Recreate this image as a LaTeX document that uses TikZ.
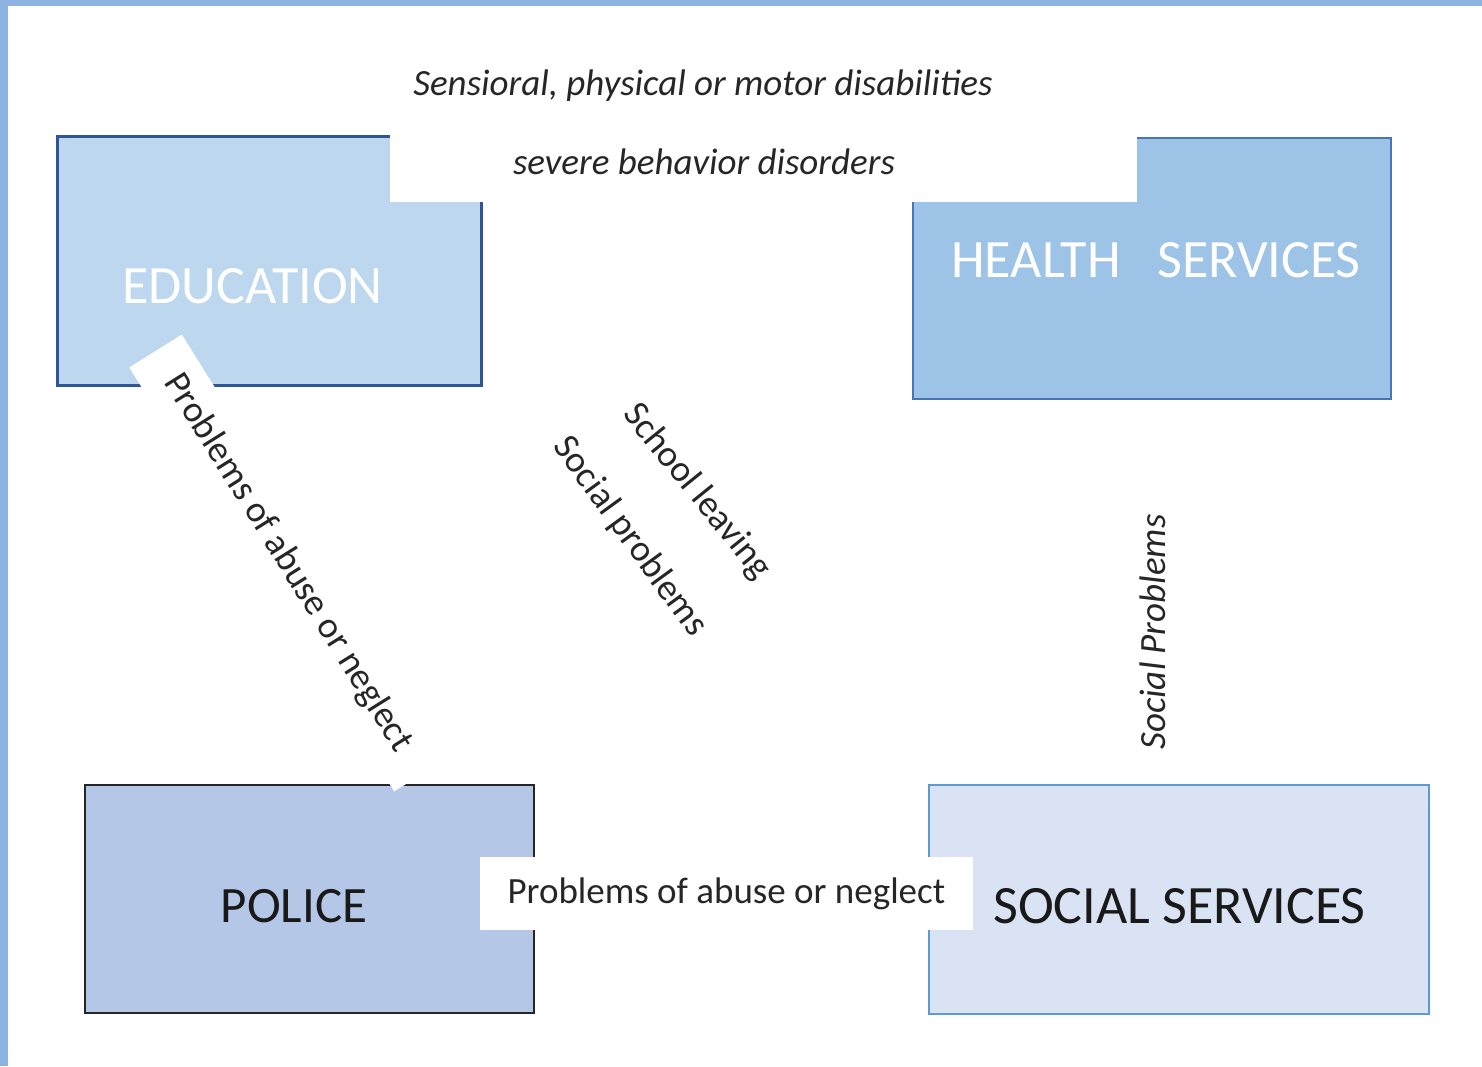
\documentclass[tikz,border=0pt]{standalone}
\usepackage{fontspec}
\setmainfont{Carlito}
\definecolor{framebar}{HTML}{8DB3E2}
\definecolor{edufill}{HTML}{BDD7EE}
\definecolor{edudraw}{HTML}{2F5597}
\definecolor{healthfill}{HTML}{9DC3E6}
\definecolor{healthdraw}{HTML}{4A74B8}
\definecolor{policefill}{HTML}{B4C7E7}
\definecolor{policedraw}{HTML}{262626}
\definecolor{socialfill}{HTML}{DAE3F3}
\definecolor{socialdraw}{HTML}{5B9BD5}
\begin{document}
\begin{tikzpicture} [
        x=0.5pt, y=-0.5pt,
        svcbox/.style={rectangle, line width=1pt, inner sep=0pt},
        svctitle/.style={inner sep=0pt, font=\fontsize{27}{32}\selectfont},
        tag/.style={fill=white, inner sep=0pt, text=black!85, font=\fontsize{18.5}{22}\selectfont},
        note/.style={inner sep=0pt, text=black!85, font=\fontsize{18.5}{22}\selectfont\itshape} ]
    \useasboundingbox (0,0) rectangle (1482,1066);
    \fill[framebar] (0,0) rectangle (1482,6);
    \fill[framebar] (0,0) rectangle (8,1066);
    % the four services
    \node[svcbox, draw=edudraw, fill=edufill, line width=1.5pt, minimum width=212pt, minimum height=124.5pt] (edu) at (269,260.5) {};
    \node[svcbox, draw=healthdraw, fill=healthfill, minimum width=239pt, minimum height=130.5pt] (health) at (1152,268.5) {};
    \node[svcbox, draw=policedraw, fill=policefill, minimum width=224.5pt, minimum height=114pt] (police) at (309.5,899) {};
    \node[svcbox, draw=socialdraw, fill=socialfill, minimum width=250pt, minimum height=114.5pt] (social) at (1179,899.5) {};
    \node[svctitle, text=white] (edutxt) at (252.5,286) {EDUCATION};
    \node[svctitle, text=white] (healthtxt) at (1156,260) {HEALTH~~~SERVICES};
    \node[svctitle, text=black!90, font=\fontsize{25.5}{30}\selectfont] (policetxt) at (294,906) {POLICE};
    \node[svctitle, text=black!90] (socialtxt) at (1179.5,906) {SOCIAL SERVICES};
    % labels
    \node[note] (sens) at (703,86) {Sensioral, physical or motor disabilities};
    \node[tag, minimum width=373.5pt, minimum height=40pt] (sevbox) at (763.5,162) {};
    \node[note] (severe) at (704,162) {severe behavior disorders};
    \node[tag, rotate=-58, minimum width=250pt, minimum height=31pt] (abuse1) at (288,563) {Problems of abuse or neglect};
    \node[tag, fill=none, rotate=-51] (school) at (697,492) {School leaving};
    \node[tag, fill=none, rotate=-54] (socprob1) at (630,537) {Social problems};
    \node[note, rotate=90] (socprob2) at (1153,632) {Social Problems};
    \path (police) -- node[tag, pos=0.487, yshift=2.75pt, minimum width=246.5pt, minimum height=36.5pt] (abuse2) {Problems of abuse or neglect} (social);
\end{tikzpicture}
\end{document}
